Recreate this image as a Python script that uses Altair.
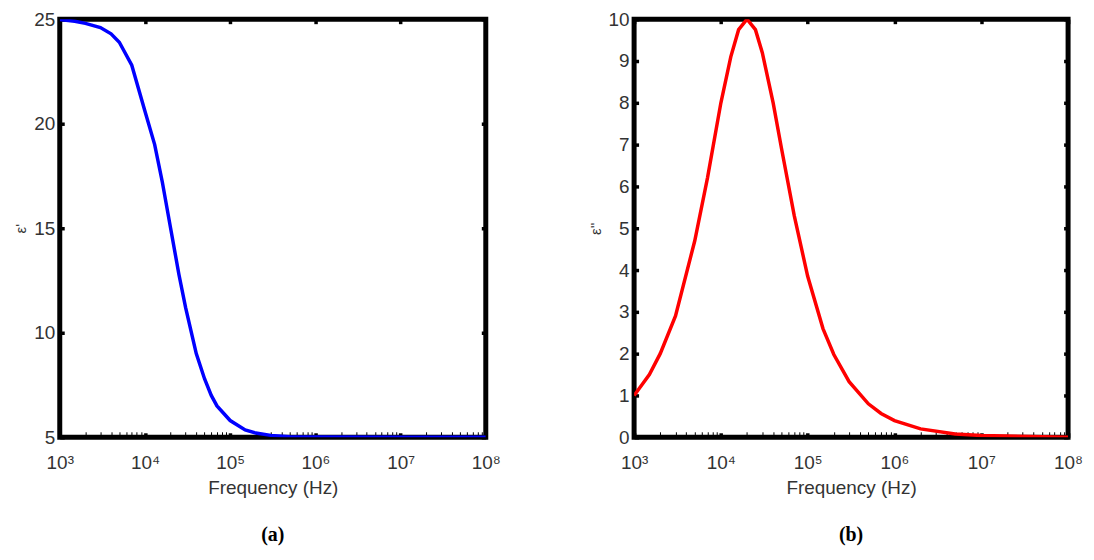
import altair as alt
import pandas as pd

# ---- data ----
freq_a = [1e3, 1.5e3, 2e3, 3e3, 4e3, 5e3, 7e3, 1e4, 1.3e4, 1.6e4, 2e4, 2.5e4, 3e4,
          4e4, 5e4, 6e4, 7e4, 1e5, 1.5e5, 2e5, 3e5, 5e5, 1e6, 1e7, 1e8]
eps_real = [24.98, 24.9, 24.8, 24.6, 24.3, 23.9, 22.8, 20.6, 19.0, 17.2, 15.0, 12.8, 11.2,
            9.0, 7.8, 7.0, 6.5, 5.8, 5.35, 5.2, 5.09, 5.03, 5.01, 5.0, 5.0]

freq_b = [1e3, 1.5e3, 2e3, 3e3, 5e3, 7e3, 1e4, 1.3e4, 1.6e4, 2e4, 2.5e4, 3e4, 4e4,
          5e4, 7e4, 1e5, 1.5e5, 2e5, 3e5, 5e5, 7e5, 1e6, 2e6, 5e6, 1e7, 1e8]
eps_imag = [1.0, 1.5, 2.0, 2.9, 4.7, 6.2, 8.0, 9.1, 9.75, 10.0, 9.75, 9.2, 8.0,
            6.9, 5.3, 3.85, 2.6, 1.98, 1.33, 0.8, 0.57, 0.4, 0.2, 0.08, 0.04, 0.0]

major_x = [1e3, 1e4, 1e5, 1e6, 1e7, 1e8]
minor_x = [k * 10 ** e for e in range(3, 8) for k in range(2, 10)]
yticks_a = [5, 10, 15, 20, 25]
yticks_b = list(range(0, 11))

SANS = "Liberation Sans Narrow, Arial Narrow, Liberation Sans, Arial"
SERIF = "Liberation Serif, DejaVu Serif"
LBL = "#333333"
sup_expr = "'10' + ['\u00b3','\u2074','\u2075','\u2076','\u2077','\u2078'][round(log(datum.value)/LN10) - 3]"


def ghost_axis(orient, values, size, width):
    return alt.Axis(orient=orient, values=values, labels=False, ticks=True,
                    tickSize=size, offset=-size, tickWidth=width, tickColor="black",
                    domain=False, grid=False, title=None, minExtent=0, maxExtent=0)


def panel(df, ycol, color, ydom, yvals, ytitle, caption, width, height):
    xs = alt.Scale(type="log", domain=[1e3, 1e8], nice=False)
    ys = alt.Scale(domain=ydom, nice=False, zero=False)
    main = alt.Chart(df).mark_line(color=color, strokeWidth=3.5, clip=True).encode(
        x=alt.X("f:Q", scale=xs, axis=alt.Axis(
            orient="bottom", values=major_x, labelExpr=sup_expr, ticks=False,
            domain=False, grid=False, labelFlush=False,
            labelFont=SANS, labelFontSize=19, labelColor=LBL, labelPadding=16,
            labelOverlap=False, labelBaseline="top",
            title="Frequency (Hz)", titleFont=SANS, titleFontSize=19,
            titleFontWeight="normal", titleColor=LBL, titlePadding=6)),
        y=alt.Y(ycol + ":Q", scale=ys, axis=alt.Axis(
            orient="left", values=yvals, ticks=False, domain=False, grid=False,
            labelFlush=False,
            labelFont=SANS, labelFontSize=19, labelColor=LBL, labelPadding=5,
            title=ytitle, titleFont=SANS, titleFontSize=15, titleFontWeight="normal",
            titleColor=LBL, titlePadding=5)),
    )
    ghost = alt.Chart(df).mark_line(opacity=0)
    minor = ghost.encode(
        x=alt.X("f:Q", scale=xs, axis=ghost_axis("bottom", minor_x, 5.5, 1)),
        y=alt.Y(ycol + ":Q", scale=ys, axis=ghost_axis("left", yvals, 4.5, 3.5)),
    )
    dots_top = ghost.encode(
        x=alt.X("f:Q", scale=xs, axis=ghost_axis("top", major_x, 4.5, 3.5)),
        y=alt.Y(ycol + ":Q", scale=ys, axis=ghost_axis("right", yvals, 4.5, 3.5)),
    )
    dots_bottom = ghost.encode(
        x=alt.X("f:Q", scale=xs, axis=ghost_axis("bottom", major_x, 4.5, 3.5)),
        y=alt.Y(ycol + ":Q", scale=ys, axis=None),
    )
    return alt.layer(main, minor, dots_top, dots_bottom).resolve_axis(
        x="independent", y="independent").properties(
        width=width, height=height,
        title=alt.TitleParams(text=caption, orient="bottom", font=SERIF, fontSize=20,
                              fontWeight="bold", color="black", offset=28),
    )


df_a = pd.DataFrame({"f": freq_a, "er": eps_real})
df_b = pd.DataFrame({"f": freq_b, "ei": eps_imag})

left = panel(df_a, "er", "#0000ff", [5, 25], yticks_a, "ε'", "(a)", 428, 420)
right = panel(df_b, "ei", "#ff0000", [0, 10], yticks_b, "ε''", "(b)", 436, 420)

chart = alt.hconcat(left, right, spacing=82).properties(
    padding={"left": 3, "top": -2, "right": 0, "bottom": 0}
).configure(background="white").configure_view(stroke="black", strokeWidth=5)

chart.save("out.html", embed_options={"renderer": "svg", "actions": False})
